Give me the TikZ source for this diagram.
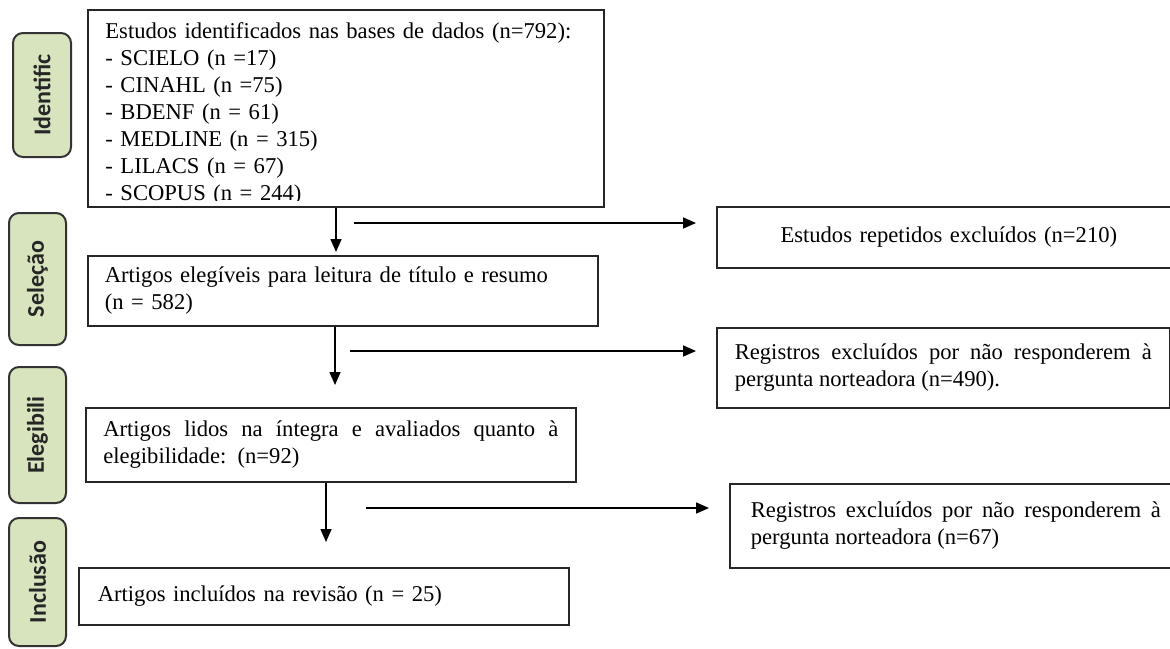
\documentclass[tikz,border=0pt]{standalone}
\usepackage{fontspec}
\setmainfont{Liberation Serif}
\newfontfamily\rotulofont{Carlito}
\usetikzlibrary{arrows.meta}

\definecolor{verdefase}{RGB}{215,228,189}
\tikzset{
  caixa/.style={rectangle, draw=black!85, line width=0.8pt, anchor=north west,
    inner ysep=2pt, font=\fontsize{11.3}{13.5}\selectfont},
  fase/.style={rectangle, rounded corners=5pt, draw=black!80, line width=1pt,
    fill=verdefase, rotate=90, inner sep=0pt, text=black!85,
    font=\rotulofont\bfseries\fontsize{12}{14}\selectfont},
  seta/.style={-{Triangle[length=6.5pt,width=5.5pt]}, line width=0.8pt},
  saida/.style={seta, shorten >=10pt},
}

\begin{document}
\begin{tikzpicture}[x=0.5pt, y=-0.5pt]
\useasboundingbox (0,0) rectangle (1170,648);

% fases (etiquetas verdes)
\node[fase, minimum width=62pt, minimum height=29pt] (identific) at (42,95) {Identific};
\node[fase, minimum width=66pt, minimum height=28.5pt] (selecao) at (37.5,279) {Seleção};
\node[fase, minimum width=68pt, minimum height=28.5pt] (elegib) at (37.5,435) {Elegibili};
\node[fase, minimum width=64pt, minimum height=28.5pt] (inclusao) at (37.5,582) {Inclusão};

% caixa das bases (texto cortado em baixo)
\begin{scope}
  \clip (88,10) rectangle (602,200);
  \node[anchor=north west, inner sep=0pt, text width=250pt, align=left,
    font=\fontsize{11.3}{13.5}\selectfont] (basestxt) at (105,22) {
      Estudos identificados nas bases de dados (n=792):\\
      - SCIELO (n =17)\\
      - CINAHL (n =75)\\
      - BDENF (n = 61)\\
      - MEDLINE (n = 315)\\
      - LILACS (n = 67)\\
      - SCOPUS (n = 244)};
\end{scope}
\node[caixa, minimum width=258pt, minimum height=98.5pt] (bases) at (87,9) {};

% caixas principais
\node[caixa, minimum width=255pt, minimum height=35pt, inner xsep=8.5pt,
  text width=238pt, align=left] (elegiveis) at (87,255)
  {Artigos elegíveis para leitura de título e resumo\\(n = 582)};
\node[caixa, minimum width=245pt, minimum height=37pt, inner xsep=8.75pt,
  text width=227.5pt, align=justify] (integra) at (85,407)
  {Artigos lidos na íntegra e avaliados quanto à\linebreak elegibilidade:~~(n=92)};
\node[caixa, minimum width=245pt, minimum height=28.5pt, inner xsep=9.5pt,
  text width=226pt, align=left] (incluidos) at (78,567)
  {Artigos incluídos na revisão (n = 25)};

% caixas de exclusao
\node[caixa, minimum width=232pt, minimum height=30.5pt, text width=214pt,
  align=center] (repetidos) at (716,206)
  {Estudos repetidos excluídos (n=210)};
\node[caixa, minimum width=226.5pt, minimum height=40pt, inner xsep=9pt,
  text width=208.5pt, align=justify] (excl1) at (716,327)
  {Registros excluídos por não responderem à\linebreak pergunta norteadora (n=490).};
\node[caixa, minimum width=226pt, minimum height=42pt, inner xsep=8.25pt,
  text width=205pt, align=justify] (excl2) at (729,483)
  {Registros excluídos por não responderem à\linebreak pergunta norteadora (n=67)};

% setas
\coordinate (p1) at (336,252);
\coordinate (p2) at (335,385);
\coordinate (p3) at (326,542);
\coordinate (h1) at (354,223);
\coordinate (h2) at (350,351);
\coordinate (h3) at (366,508);

\draw[seta] (bases.south -| p1) -- (p1);
\draw[seta] (elegiveis.south -| p2) -- (p2);
\draw[seta] (integra.south -| p3) -- (p3);
\draw[saida] (h1) -- (h1 -| repetidos.west);
\draw[saida] (h2) -- (h2 -| excl1.west);
\draw[saida] (h3) -- (h3 -| excl2.west);
\end{tikzpicture}
\end{document}
